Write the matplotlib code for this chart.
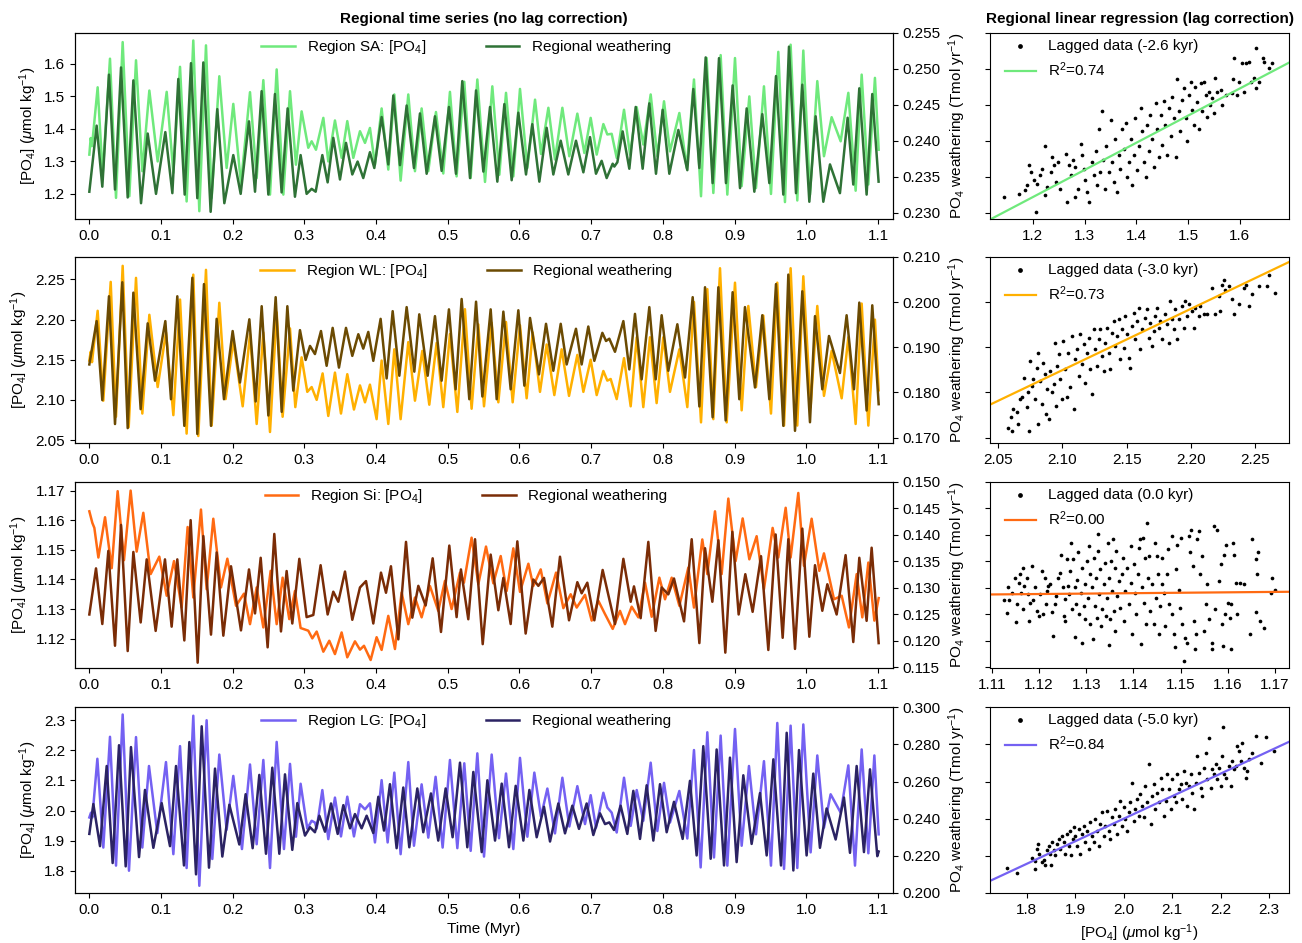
import numpy as np
import matplotlib
matplotlib.use("Agg")
import matplotlib.pyplot as plt
from matplotlib.ticker import MultipleLocator, FormatStrFormatter

plt.rcParams['font.family'] = ['Liberation Sans', 'DejaVu Sans']
plt.rcParams['mathtext.fontset'] = 'custom'
plt.rcParams['mathtext.rm'] = 'Liberation Sans'
plt.rcParams['mathtext.it'] = 'Liberation Sans:italic'
plt.rcParams['mathtext.bf'] = 'Liberation Sans:bold'

# ---------------- time series (time in kyr, value) ----------------
sa_w = [(0,0.2329),(10.2,0.2421),(18.1,0.2336),(27.4,0.2492),(35.8,0.2332),(44.2,0.2502),(53.5,0.2321),(61.4,0.2484),(72.1,0.2313),(81.4,0.2410),(93.0,0.2326),(106.0,0.2412),(115.8,0.2327),(124.1,0.2486),(133.0,0.2325),(141.8,0.2508),(150.6,0.2320),(159.0,0.2509),(169.2,0.2301),(178.5,0.2444),(188.3,0.2313),(200.8,0.2380),(211.1,0.2326),(222.7,0.2427),(231.1,0.2329),(240.3,0.2469),(249.7,0.2325),(258.9,0.2465),(268.2,0.2328),(276.6,0.2445),(286.8,0.2322),(294.7,0.2380),(303.1,0.2326),(310.1,0.2333),(315.7,0.2329),(325.0,0.2380),(332.4,0.2342),(340.3,0.2404),(349.6,0.2346),(358.0,0.2397),(366.8,0.2353),(374.2,0.2371),(382.1,0.2348),(391.4,0.2384),(397.5,0.2362),(407.7,0.2433),(417.0,0.2367),(424.0,0.2463),(433.3,0.2366),(442.6,0.2449),(452.8,0.2362),(461.2,0.2438),(470.5,0.2354),(482.1,0.2434),(491.4,0.2358),(501.6,0.2447),(511.4,0.2354),(520.2,0.2483),(531.0,0.2348),(539.4,0.2470),(549.6,0.2357),(558.9,0.2447),(569.1,0.2343),(578.9,0.2451),(589.1,0.2345),(598.4,0.2439),(609.1,0.2353),(617.9,0.2423),(627.7,0.2343),(637.9,0.2418),(647.2,0.2353),(657.5,0.2400),(668.1,0.2353),(678.8,0.2400),(689.1,0.2356),(698.4,0.2405),(706.7,0.2354),(714.6,0.2372),(721.6,0.2348),(730.0,0.2368),(732.3,0.2364),(736.5,0.2370),(743.9,0.2413),(753.2,0.2361),(762.1,0.2447),(771.8,0.2361),(781.1,0.2452),(790.4,0.2354),(799.7,0.2443),(809.0,0.2354),(821.6,0.2415),(834.1,0.2359),(842.5,0.2472),(850.9,0.2362),(859.7,0.2516),(869.4,0.2341),(878.3,0.2515),(888.0,0.2341),(897.3,0.2477),(907.6,0.2334),(916.9,0.2445),(927.6,0.2329),(938.7,0.2437),(948.5,0.2341),(957.8,0.2490),(968.0,0.2325),(975.9,0.2531),(985.7,0.2327),(994.5,0.2478),(1004.3,0.2315),(1013.1,0.2434),(1023.8,0.2315),(1033.1,0.2367),(1047.0,0.2327),(1057.7,0.2432),(1065.6,0.2339),(1074.0,0.2473),(1084.2,0.2325),(1092.1,0.2465),(1100.9,0.2343)]
sa_p = [(0,1.320),(1.9,1.371),(3.7,1.346),(11.6,1.527),(18.6,1.258),(28.8,1.615),(37.2,1.187),(46.5,1.666),(55.8,1.192),(65.1,1.610),(73.9,1.269),(83.7,1.517),(95.3,1.299),(107.9,1.513),(117.2,1.264),(126.5,1.590),(135.7,1.176),(145.0,1.671),(153.4,1.146),(162.7,1.656),(170.6,1.187),(181.3,1.561),(191.5,1.279),(200.8,1.476),(211.5,1.230),(224.1,1.512),(233.4,1.248),(242.7,1.549),(252.0,1.197),(261.3,1.582),(270.6,1.197),(279.9,1.515),(288.2,1.289),(296.1,1.453),(305.4,1.341),(310.1,1.361),(316.1,1.335),(326.4,1.433),(333.3,1.299),(342.6,1.425),(351.9,1.310),(359.8,1.423),(368.2,1.310),(377.5,1.392),(384.5,1.356),(391.4,1.402),(398.4,1.289),(407.7,1.462),(417.0,1.274),(425.4,1.505),(434.2,1.240),(444.9,1.505),(454.2,1.269),(463.5,1.462),(472.8,1.269),(483.5,1.451),(493.7,1.262),(503.0,1.513),(512.3,1.253),(523.0,1.544),(531.9,1.248),(541.2,1.551),(551.9,1.236),(562.1,1.530),(571.9,1.258),(581.2,1.510),(591.4,1.253),(600.7,1.522),(611.0,1.279),(621.7,1.489),(630.0,1.322),(640.3,1.464),(649.5,1.305),(659.8,1.464),(669.5,1.315),(680.7,1.446),(690.5,1.325),(699.3,1.433),(707.7,1.320),(717.0,1.414),(722.5,1.382),(728.6,1.384),(735.6,1.310),(745.8,1.458),(754.2,1.320),(763.5,1.466),(772.7,1.351),(783.0,1.505),(792.3,1.315),(801.6,1.484),(809.9,1.330),(823.0,1.448),(833.2,1.279),(843.4,1.551),(853.2,1.192),(861.1,1.617),(870.4,1.202),(880.6,1.626),(889.9,1.197),(900.6,1.617),(909.9,1.223),(920.6,1.499),(929.9,1.217),(941.0,1.530),(950.8,1.199),(961.0,1.636),(970.3,1.174),(978.2,1.658),(987.5,1.179),(995.9,1.640),(1005.2,1.197),(1015.4,1.546),(1024.7,1.315),(1035.4,1.435),(1048.0,1.361),(1058.7,1.510),(1068.9,1.209),(1077.3,1.566),(1086.6,1.228),(1095.8,1.556),(1101.0,1.335)]

wl_w = [(0,0.1862),(10.2,0.1958),(18.1,0.1783),(27.4,0.2013),(35.8,0.1730),(46.0,0.2044),(53.5,0.1721),(61.4,0.2021),(71.6,0.1763),(81.4,0.1953),(91.6,0.1826),(106.0,0.1958),(113.9,0.1785),(122.7,0.2013),(132.5,0.1726),(143.7,0.2054),(150.6,0.1708),(159.9,0.2040),(169.7,0.1726),(177.6,0.1963),(187.8,0.1785),(199.9,0.1936),(210.1,0.1822),(223.2,0.1962),(232.0,0.1780),(240.4,0.1991),(249.7,0.1749),(259.9,0.2011),(268.3,0.1757),(276.2,0.1991),(284.5,0.1804),(293.8,0.1938),(301.7,0.1872),(307.8,0.1903),(314.7,0.1885),(323.1,0.1936),(331.0,0.1859),(339.4,0.1943),(348.2,0.1855),(358.0,0.1943),(366.8,0.1881),(375.2,0.1929),(382.1,0.1897),(389.1,0.1934),(396.1,0.1870),(406.3,0.1963),(414.7,0.1831),(423.1,0.1980),(432.4,0.1837),(442.6,0.1989),(453.3,0.1846),(460.2,0.1973),(471.9,0.1837),(482.1,0.1969),(491.4,0.1826),(501.6,0.1984),(510.9,0.1807),(519.3,0.2007),(530.0,0.1785),(539.4,0.2001),(548.2,0.1791),(559.8,0.1984),(568.2,0.1785),(577.5,0.1979),(587.7,0.1807),(598.4,0.1982),(606.8,0.1815),(614.7,0.1965),(627.2,0.1840),(637.0,0.1952),(647.2,0.1848),(657.5,0.1952),(665.8,0.1862),(678.8,0.1941),(686.7,0.1862),(696.0,0.1946),(704.4,0.1870),(715.6,0.1932),(720.7,0.1914),(725.3,0.1919),(733.2,0.1890),(744.9,0.1958),(753.2,0.1851),(761.1,0.1974),(770.4,0.1829),(781.1,0.1989),(790.0,0.1829),(798.3,0.1971),(807.6,0.1848),(820.2,0.1951),(830.9,0.1833),(841.6,0.2011),(850.9,0.1769),(858.8,0.2033),(869.4,0.1745),(877.4,0.2033),(887.6,0.1738),(897.3,0.2022),(906.6,0.1785),(914.5,0.1989),(928.5,0.1811),(938.7,0.1971),(948.5,0.1785),(957.8,0.2040),(968.0,0.1726),(975.0,0.2061),(984.3,0.1715),(994.5,0.2024),(1005.2,0.1734),(1012.2,0.1969),(1022.4,0.1807),(1031.7,0.1925),(1047.0,0.1843),(1056.3,0.1971),(1066.6,0.1807),(1074.0,0.1999),(1084.2,0.1760),(1092.1,0.1993),(1101.0,0.1774)]
wl_p = [(0,2.149),(1.9,2.160),(3.7,2.147),(11.6,2.211),(19.5,2.099),(29.8,2.247),(37.2,2.079),(46.5,2.267),(54.9,2.066),(65.1,2.252),(73.9,2.083),(83.7,2.206),(95.3,2.116),(106.9,2.184),(117.2,2.081),(126.5,2.225),(135.7,2.058),(145.0,2.256),(152.0,2.055),(162.7,2.262),(170.6,2.068),(181.3,2.221),(190.1,2.101),(200.8,2.174),(213.9,2.092),(224.1,2.182),(233.4,2.070),(242.7,2.184),(252.0,2.060),(261.3,2.209),(269.6,2.079),(279.9,2.189),(287.3,2.091),(296.1,2.153),(304.0,2.110),(310.1,2.116),(317.1,2.100),(325.4,2.133),(333.3,2.080),(342.6,2.134),(351.0,2.083),(359.8,2.132),(369.1,2.088),(377.5,2.118),(384.5,2.097),(391.4,2.119),(400.7,2.076),(407.7,2.149),(417.0,2.070),(425.4,2.163),(434.2,2.076),(444.9,2.172),(454.2,2.099),(464.4,2.161),(474.2,2.094),(484.4,2.171),(493.7,2.091),(503.0,2.182),(513.3,2.085),(523.9,2.213),(533.2,2.089),(542.6,2.194),(550.5,2.092),(561.2,2.196),(570.5,2.097),(581.2,2.197),(590.5,2.097),(600.7,2.193),(610.0,2.102),(618.4,2.184),(628.6,2.110),(637.9,2.169),(648.6,2.106),(658.8,2.163),(669.1,2.105),(680.7,2.156),(689.1,2.110),(699.3,2.150),(707.7,2.106),(717.0,2.136),(722.5,2.124),(727.2,2.126),(735.6,2.101),(745.8,2.152),(755.1,2.092),(763.5,2.178),(772.7,2.091),(782.0,2.178),(791.3,2.096),(800.6,2.178),(809.9,2.110),(823.0,2.163),(834.1,2.091),(843.4,2.222),(853.2,2.072),(862.0,2.238),(870.4,2.076),(879.7,2.264),(889.0,2.072),(900.6,2.246),(909.9,2.087),(919.2,2.217),(929.9,2.116),(940.1,2.205),(950.8,2.083),(959.6,2.246),(969.0,2.068),(978.2,2.264),(987.5,2.068),(995.9,2.254),(1006.1,2.091),(1015.4,2.217),(1024.7,2.105),(1035.4,2.161),(1049.4,2.102),(1058.7,2.178),(1068.9,2.070),(1077.3,2.220),(1086.6,2.068),(1095.8,2.200),(1101.0,2.112)]

si_w = [(0,0.1250),(9.3,0.1337),(18.1,0.1232),(26.5,0.1370),(35.8,0.1191),(44.2,0.1419),(53.5,0.1181),(61.4,0.1368),(71.6,0.1235),(80.0,0.1354),(92.5,0.1219),(105.5,0.1354),(114.8,0.1227),(122.7,0.1354),(132.5,0.1201),(141.3,0.1428),(151.1,0.1159),(159.0,0.1398),(169.7,0.1212),(177.6,0.1367),(186.9,0.1210),(197.6,0.1341),(211.5,0.1220),(222.7,0.1335),(231.1,0.1252),(239.0,0.1357),(248.7,0.1188),(258.0,0.1402),(267.3,0.1218),(275.2,0.1332),(283.1,0.1233),(292.9,0.1355),(303.1,0.1245),(312.4,0.1249),(322.6,0.1343),(332.4,0.1250),(340.3,0.1293),(347.3,0.1274),(356.6,0.1331),(366.8,0.1240),(377.5,0.1301),(385.9,0.1313),(396.1,0.1233),(406.8,0.1329),(413.8,0.1291),(420.7,0.1341),(431.0,0.1203),(441.7,0.1387),(450.5,0.1244),(458.9,0.1304),(469.1,0.1267),(478.9,0.1356),(490.5,0.1217),(502.1,0.1380),(512.3,0.1245),(518.3,0.1335),(528.6,0.1241),(538.0,0.1392),(548.7,0.1194),(559.8,0.1363),(570.5,0.1258),(577.5,0.1319),(587.7,0.1232),(597.0,0.1388),(608.6,0.1214),(619.3,0.1316),(626.3,0.1304),(634.2,0.1319),(645.8,0.1227),(656.5,0.1359),(669.1,0.1239),(680.7,0.1311),(686.7,0.1290),(694.6,0.1310),(704.4,0.1239),(716.0,0.1334),(733.2,0.1232),(744.9,0.1355),(755.1,0.1274),(759.7,0.1303),(769.0,0.1243),(779.7,0.1387),(789.9,0.1219),(798.3,0.1301),(807.6,0.1288),(815.5,0.1318),(829.5,0.1237),(840.2,0.1392),(850.9,0.1196),(858.8,0.1375),(869.0,0.1274),(877.4,0.1390),(887.1,0.1178),(896.9,0.1406),(905.7,0.1250),(915.0,0.1326),(925.2,0.1255),(936.9,0.1360),(947.1,0.1183),(957.3,0.1401),(967.1,0.1206),(975.0,0.1392),(984.3,0.1185),(994.5,0.1412),(1004.3,0.1208),(1012.2,0.1343),(1022.4,0.1257),(1029.4,0.1307),(1042.4,0.1250),(1054.9,0.1362),(1065.6,0.1198),(1074.0,0.1357),(1084.2,0.1238),(1091.2,0.1376),(1101.0,0.1196)]
si_p = [(0,1.1630),(4.2,1.1591),(7.0,1.1574),(12.6,1.1474),(21.9,1.1610),(31.2,1.1438),(39.5,1.1698),(48.3,1.1465),(57.6,1.1700),(66.0,1.1494),(75.3,1.1625),(85.5,1.1418),(97.6,1.1477),(107.9,1.1345),(118.1,1.1462),(128.8,1.1305),(137.1,1.1577),(145.0,1.1339),(155.7,1.1636),(163.6,1.1367),(172.9,1.1605),(183.6,1.1373),(192.5,1.1470),(204.6,1.1311),(215.7,1.1352),(224.1,1.1249),(233.4,1.1373),(242.7,1.1238),(252.9,1.1429),(261.3,1.1249),(269.6,1.1406),(278.9,1.1266),(286.8,1.1361),(294.7,1.1236),(305.4,1.1227),(311.0,1.1201),(317.1,1.1224),(326.4,1.1156),(334.7,1.1193),(342.6,1.1148),(351.9,1.1221),(359.8,1.1137),(370.5,1.1191),(377.5,1.1163),(383.1,1.1176),(392.4,1.1128),(400.7,1.1205),(407.7,1.1162),(417.0,1.1277),(426.3,1.1165),(435.6,1.1356),(444.9,1.1249),(454.2,1.1339),(463.5,1.1272),(475.1,1.1378),(486.7,1.1294),(496.0,1.1395),(505.3,1.1300),(517.0,1.1423),(522.5,1.1389),(533.2,1.1541),(542.6,1.1384),(553.3,1.1511),(563.5,1.1387),(573.8,1.1479),(582.1,1.1361),(591.4,1.1505),(600.7,1.1358),(612.4,1.1453),(619.3,1.1378),(629.6,1.1434),(638.9,1.1319),(651.0,1.1423),(661.2,1.1303),(671.4,1.1350),(679.8,1.1305),(691.4,1.1348),(700.7,1.1261),(710.0,1.1328),(719.3,1.1283),(730.0,1.1233),(740.2,1.1294),(747.2,1.1249),(756.5,1.1308),(765.8,1.1272),(775.1,1.1389),(784.4,1.1274),(795.1,1.1406),(803.0,1.1333),(812.3,1.1406),(823.0,1.1311),(835.5,1.1440),(843.4,1.1305),(855.0,1.1535),(862.0,1.1418),(872.7,1.1630),(882.0,1.1418),(891.3,1.1673),(901.5,1.1462),(911.3,1.1606),(920.6,1.1468),(930.8,1.1546),(941.0,1.1367),(953.1,1.1574),(961.0,1.1474),(971.3,1.1642),(978.2,1.1474),(988.9,1.1692),(996.8,1.1446),(1007.5,1.1605),(1018.2,1.1429),(1024.7,1.1488),(1038.7,1.1333),(1049.4,1.1345),(1059.6,1.1238),(1070.3,1.1418),(1078.2,1.1272),(1086.6,1.1457),(1095.0,1.1261),(1101.0,1.1337)]

lg_w = [(0,0.2318),(5.6,0.2479),(14.9,0.2252),(24.2,0.2684),(32.5,0.2161),(41.4,0.2796),(50.7,0.2143),(58.1,0.2786),(69.3,0.2193),(77.6,0.2555),(89.3,0.2243),(100.9,0.2484),(112.5,0.2252),(120.9,0.2684),(132.0,0.2148),(139.5,0.2813),(148.8,0.2100),(156.7,0.2898),(166.9,0.2136),(175.3,0.2670),(185.5,0.2196),(195.3,0.2475),(209.2,0.2261),(218.0,0.2532),(227.8,0.2241),(237.1,0.2636),(246.4,0.2211),(255.2,0.2675),(265.0,0.2211),(272.9,0.2639),(283.1,0.2232),(290.1,0.2484),(300.8,0.2309),(307.8,0.2354),(314.7,0.2327),(320.8,0.2416),(328.7,0.2330),(337.1,0.2482),(346.4,0.2318),(354.3,0.2473),(363.6,0.2348),(370.5,0.2425),(379.8,0.2348),(386.8,0.2416),(396.1,0.2323),(403.1,0.2518),(411.0,0.2336),(419.3,0.2586),(428.6,0.2241),(437.9,0.2568),(446.3,0.2246),(457.5,0.2563),(465.8,0.2327),(476.5,0.2536),(486.7,0.2282),(497.0,0.2563),(506.7,0.2300),(517.0,0.2702),(527.2,0.2246),(535.6,0.2652),(547.3,0.2220),(555.2,0.2607),(565.9,0.2282),(575.2,0.2589),(585.4,0.2246),(594.7,0.2577),(605.4,0.2282),(613.8,0.2555),(624.0,0.2300),(634.2,0.2464),(642.6,0.2277),(654.2,0.2482),(663.5,0.2321),(673.7,0.2470),(683.0,0.2345),(693.7,0.2482),(703.0,0.2312),(712.3,0.2429),(719.3,0.2371),(725.3,0.2380),(731.8,0.2339),(741.1,0.2470),(750.4,0.2318),(758.8,0.2550),(768.1,0.2291),(777.4,0.2580),(786.7,0.2282),(796.0,0.2586),(805.3,0.2327),(815.5,0.2491),(827.6,0.2291),(837.8,0.2604),(847.1,0.2202),(856.4,0.2791),(866.7,0.2184),(875.0,0.2773),(885.3,0.2148),(893.6,0.2729),(902.9,0.2166),(912.2,0.2634),(923.8,0.2264),(935.5,0.2538),(944.8,0.2202),(954.1,0.2720),(964.8,0.2148),(972.7,0.2863),(982.0,0.2121),(989.9,0.2770),(1000.5,0.2202),(1009.8,0.2643),(1019.1,0.2243),(1028.4,0.2455),(1041.0,0.2288),(1052.6,0.2514),(1061.0,0.2216),(1070.3,0.2684),(1080.5,0.2220),(1088.9,0.2666),(1099.1,0.2198),(1101.0,0.2223)]
lg_p = [(0,1.977),(2.3,1.993),(4.2,1.977),(11.2,2.172),(19.5,1.877),(28.8,2.245),(37.2,1.817),(46.5,2.319),(55.3,1.800),(65.1,2.244),(73.9,1.877),(83.2,2.148),(94.8,1.925),(106.9,2.161),(117.2,1.855),(126.5,2.214),(135.7,1.809),(145.0,2.315),(153.4,1.750),(163.6,2.300),(171.5,1.839),(181.3,2.186),(191.5,1.936),(200.8,2.115),(212.9,1.872),(224.1,2.153),(233.4,1.888),(242.7,2.168),(252.0,1.809),(261.3,2.228),(271.5,1.872),(279.9,2.155),(288.2,1.913),(294.7,2.089),(304.0,1.940),(310.1,1.966),(314.7,1.960),(317.1,1.940),(325.0,2.068),(333.3,1.905),(342.6,2.043),(351.0,1.914),(359.8,2.046),(369.1,1.914),(377.5,2.021),(384.5,2.004),(391.4,2.024),(398.4,1.894),(407.7,2.101),(416.1,1.894),(425.4,2.126),(434.2,1.855),(444.9,2.161),(452.8,1.883),(463.5,2.087),(472.8,1.910),(483.0,2.112),(492.8,1.877),(503.0,2.168),(513.3,1.875),(523.0,2.157),(531.9,1.866),(541.2,2.190),(550.5,1.847),(561.2,2.186),(571.4,1.908),(581.2,2.123),(591.4,1.872),(600.7,2.175),(611.0,1.913),(620.7,2.126),(630.0,1.980),(638.9,2.073),(649.5,1.924),(659.8,2.109),(669.5,1.947),(680.7,2.081),(691.4,1.955),(699.3,2.051),(706.7,1.943),(717.0,2.059),(722.5,2.010),(728.6,1.993),(735.6,1.927),(745.8,2.109),(755.1,1.949),(763.5,2.068),(772.7,1.966),(783.0,2.159),(792.3,1.932),(801.6,2.092),(809.9,1.960),(823.0,2.065),(834.1,1.907),(843.4,2.201),(852.7,1.811),(862.0,2.260),(871.3,1.844),(880.6,2.249),(889.9,1.817),(900.6,2.271),(909.9,1.883),(920.1,2.148),(929.9,1.921),(941.0,2.164),(950.8,1.817),(959.6,2.291),(969.0,1.806),(978.2,2.282),(987.5,1.809),(995.9,2.286),(1006.1,1.861),(1015.4,2.183),(1024.7,1.943),(1034.0,2.054),(1048.0,1.993),(1058.7,2.150),(1068.0,1.817),(1077.3,2.203),(1086.6,1.858),(1095.0,2.183),(1101.0,1.921)]

# ---------------- lagged scatter data ([PO4], weathering) ----------------
sa_sc = [(1.144,0.2322),(1.174,0.2326),(1.185,0.2331),(1.188,0.2338),(1.192,0.2366),(1.196,0.2357),(1.203,0.2345),(1.205,0.2301),(1.208,0.2340),(1.213,0.2352),(1.217,0.2361),(1.224,0.2392),(1.224,0.2324),(1.227,0.2336),(1.234,0.2357),(1.237,0.2378),(1.240,0.2366),(1.245,0.2343),(1.248,0.2371),(1.253,0.2333),(1.263,0.2382),(1.266,0.2315),(1.269,0.2366),(1.274,0.2352),(1.277,0.2373),(1.281,0.2322),(1.282,0.2364),(1.287,0.2333),(1.292,0.2396),(1.295,0.2380),(1.298,0.2361),(1.301,0.2345),(1.305,0.2329),(1.309,0.2315),(1.314,0.2371),(1.318,0.2352),(1.321,0.2385),(1.324,0.2338),(1.327,0.2417),(1.330,0.2357),(1.334,0.2441),(1.335,0.2373),(1.339,0.2333),(1.341,0.2392),(1.347,0.2357),(1.350,0.2429),(1.352,0.2371),(1.356,0.2343),(1.359,0.2403),(1.363,0.2329),(1.366,0.2380),(1.369,0.2361),(1.372,0.2417),(1.376,0.2389),(1.379,0.2424),(1.382,0.2350),(1.385,0.2371),(1.389,0.2403),(1.392,0.2338),(1.395,0.2380),(1.398,0.2432),(1.401,0.2359),(1.405,0.2392),(1.408,0.2445),(1.411,0.2413),(1.414,0.2371),(1.418,0.2350),(1.421,0.2422),(1.424,0.2385),(1.427,0.2436),(1.430,0.2403),(1.434,0.2364),(1.437,0.2452),(1.440,0.2417),(1.443,0.2378),(1.447,0.2436),(1.450,0.2394),(1.453,0.2455),(1.456,0.2422),(1.460,0.2380),(1.463,0.2445),(1.466,0.2406),(1.469,0.2461),(1.472,0.2431),(1.476,0.2378),(1.479,0.2486),(1.482,0.2441),(1.485,0.2413),(1.489,0.2457),(1.492,0.2473),(1.495,0.2431),(1.498,0.2399),(1.501,0.2464),(1.505,0.2482),(1.508,0.2443),(1.511,0.2422),(1.514,0.2475),(1.518,0.2454),(1.521,0.2417),(1.524,0.2480),(1.527,0.2441),(1.531,0.2482),(1.534,0.2464),(1.537,0.2433),(1.540,0.2468),(1.543,0.2450),(1.547,0.2459),(1.550,0.2438),(1.552,0.2487),(1.556,0.2468),(1.563,0.2471),(1.566,0.2450),(1.573,0.2464),(1.585,0.2466),(1.587,0.2486),(1.589,0.2515),(1.595,0.2464),(1.598,0.2482),(1.605,0.2508),(1.608,0.2468),(1.611,0.2508),(1.618,0.2510),(1.621,0.2482),(1.627,0.2487),(1.631,0.2529),(1.632,0.2473),(1.637,0.2482),(1.644,0.2515),(1.647,0.2510),(1.656,0.2501),(1.663,0.2508)]
wl_sc = [(2.0578,0.1721),(2.0614,0.1715),(2.0604,0.1745),(2.0622,0.1763),(2.0648,0.1756),(2.0661,0.1730),(2.0674,0.1785),(2.0687,0.1789),(2.0707,0.1833),(2.0725,0.1767),(2.0738,0.1800),(2.0744,0.1715),(2.0751,0.1870),(2.0764,0.1815),(2.0777,0.1829),(2.0790,0.1785),(2.0803,0.1855),(2.0811,0.1730),(2.0816,0.1888),(2.0829,0.1826),(2.0842,0.1774),(2.0855,0.1866),(2.0863,0.1840),(2.0873,0.1752),(2.0881,0.1807),(2.0894,0.1741),(2.0907,0.1848),(2.0920,0.1800),(2.0933,0.1818),(2.0946,0.1910),(2.0951,0.1771),(2.0959,0.1859),(2.0972,0.1885),(2.0985,0.1829),(2.0997,0.1785),(2.1010,0.1914),(2.1023,0.1851),(2.1036,0.1789),(2.1049,0.1888),(2.1062,0.1811),(2.1075,0.1925),(2.1088,0.1763),(2.1101,0.1874),(2.1114,0.1896),(2.1127,0.1837),(2.1140,0.1929),(2.1153,0.1862),(2.1166,0.1907),(2.1179,0.1822),(2.1192,0.1888),(2.1205,0.1921),(2.1218,0.1851),(2.1231,0.1796),(2.1244,0.1940),(2.1257,0.1896),(2.1270,0.1859),(2.1282,0.1918),(2.1295,0.1940),(2.1308,0.1881),(2.1321,0.1848),(2.1334,0.1910),(2.1347,0.1943),(2.1360,0.1888),(2.1373,0.1851),(2.1386,0.1932),(2.1399,0.1958),(2.1412,0.1903),(2.1425,0.1925),(2.1438,0.1962),(2.1451,0.1874),(2.1464,0.1940),(2.1477,0.1899),(2.1490,0.1969),(2.1503,0.1929),(2.1516,0.1877),(2.1529,0.1855),(2.1542,0.1947),(2.1555,0.1976),(2.1567,0.1918),(2.1580,0.1958),(2.1593,0.1988),(2.1606,0.1896),(2.1619,0.1940),(2.1645,0.1965),(2.1658,0.1984),(2.1671,0.1921),(2.1684,0.1954),(2.1697,0.1903),(2.1710,0.1936),(2.1723,0.1969),(2.1736,0.1988),(2.1749,0.1943),(2.1762,0.1958),(2.1775,0.1918),(2.1801,0.1973),(2.1814,0.1951),(2.1827,0.1910),(2.1840,0.2002),(2.1852,0.1962),(2.1865,0.1940),(2.1878,0.1984),(2.1891,0.1918),(2.1904,0.1962),(2.1930,0.1991),(2.1943,0.1943),(2.1956,0.2002),(2.1969,0.1969),(2.1982,0.1995),(2.2008,0.1980),(2.2021,0.1943),(2.2034,0.1988),(2.2060,0.1969),(2.2073,0.1991),(2.2099,0.1973),(2.2125,0.1973),(2.2163,0.2032),(2.2189,0.1973),(2.2215,0.2013),(2.2228,0.1980),(2.2241,0.2039),(2.2254,0.2050),(2.2267,0.2028),(2.2293,0.2035),(2.2319,0.2006),(2.2332,0.1973),(2.2371,0.1995),(2.2410,0.2032),(2.2423,0.2039),(2.2448,0.1991),(2.2474,0.2017),(2.2526,0.2035),(2.2591,0.2035),(2.2604,0.2061),(2.2651,0.2021)]
si_sc = [(1.1126,0.1277),(1.1132,0.1252),(1.1134,0.1302),(1.1137,0.1277),(1.1142,0.1291),(1.1148,0.1318),(1.1151,0.1235),(1.1153,0.1269),(1.1157,0.1310),(1.1160,0.1326),(1.1162,0.1291),(1.1165,0.1338),(1.1167,0.1260),(1.1169,0.1304),(1.1174,0.1319),(1.1176,0.1288),(1.1179,0.1238),(1.1181,0.1271),(1.1185,0.1341),(1.1188,0.1277),(1.1192,0.1301),(1.1196,0.1257),(1.1199,0.1247),(1.1203,0.1288),(1.1206,0.1332),(1.1208,0.1250),(1.1212,0.1319),(1.1215,0.1269),(1.1217,0.1294),(1.1220,0.1304),(1.1224,0.1308),(1.1227,0.1254),(1.1230,0.1210),(1.1234,0.1269),(1.1236,0.1285),(1.1240,0.1319),(1.1245,0.1329),(1.1247,0.1363),(1.1250,0.1301),(1.1252,0.1247),(1.1254,0.1279),(1.1256,0.1238),(1.1259,0.1354),(1.1261,0.1304),(1.1263,0.1288),(1.1266,0.1332),(1.1268,0.1385),(1.1270,0.1260),(1.1273,0.1354),(1.1276,0.1301),(1.1277,0.1208),(1.1278,0.1269),(1.1280,0.1316),(1.1283,0.1367),(1.1284,0.1250),(1.1288,0.1291),(1.1291,0.1338),(1.1292,0.1197),(1.1295,0.1266),(1.1297,0.1307),(1.1298,0.1241),(1.1302,0.1351),(1.1304,0.1282),(1.1305,0.1379),(1.1307,0.1232),(1.1309,0.1326),(1.1312,0.1301),(1.1314,0.1203),(1.1316,0.1357),(1.1318,0.1266),(1.1321,0.1319),(1.1323,0.1244),(1.1325,0.1370),(1.1326,0.1401),(1.1328,0.1288),(1.1330,0.1335),(1.1332,0.1228),(1.1334,0.1260),(1.1337,0.1307),(1.1339,0.1348),(1.1341,0.1247),(1.1344,0.1282),(1.1346,0.1385),(1.1348,0.1319),(1.1349,0.1192),(1.1351,0.1241),(1.1353,0.1351),(1.1355,0.1294),(1.1356,0.1392),(1.1358,0.1257),(1.1360,0.1338),(1.1362,0.1219),(1.1363,0.1370),(1.1365,0.1285),(1.1369,0.1313),(1.1372,0.1263),(1.1376,0.1326),(1.1377,0.1357),(1.1380,0.1238),(1.1383,0.1294),(1.1387,0.1338),(1.1390,0.1269),(1.1394,0.1310),(1.1396,0.1379),(1.1397,0.1213),(1.1401,0.1345),(1.1403,0.1291),(1.1406,0.1250),(1.1410,0.1326),(1.1411,0.1376),(1.1415,0.1392),(1.1417,0.1194),(1.1418,0.1301),(1.1420,0.1395),(1.1422,0.1272),(1.1424,0.1357),(1.1427,0.1232),(1.1429,0.1423),(1.1431,0.1319),(1.1433,0.1360),(1.1436,0.1257),(1.1440,0.1307),(1.1443,0.1232),(1.1445,0.1385),(1.1447,0.1282),(1.1450,0.1360),(1.1452,0.1326),(1.1455,0.1213),(1.1457,0.1266),(1.1460,0.1307),(1.1461,0.1357),(1.1464,0.1291),(1.1468,0.1228),(1.1472,0.1326),(1.1474,0.1373),(1.1476,0.1269),(1.1481,0.1398),(1.1482,0.1250),(1.1486,0.1213),(1.1488,0.1188),(1.1491,0.1335),(1.1493,0.1382),(1.1496,0.1297),(1.1498,0.1263),(1.1500,0.1395),(1.1503,0.1232),(1.1507,0.1163),(1.1510,0.1206),(1.1514,0.1197),(1.1518,0.1398),(1.1521,0.1367),(1.1523,0.1410),(1.1526,0.1341),(1.1528,0.1238),(1.1530,0.1185),(1.1533,0.1213),(1.1535,0.1392),(1.1539,0.1407),(1.1542,0.1326),(1.1546,0.1360),(1.1549,0.1219),(1.1553,0.1269),(1.1556,0.1307),(1.1561,0.1241),(1.1566,0.1197),(1.1567,0.1185),(1.1571,0.1417),(1.1574,0.1260),(1.1578,0.1410),(1.1581,0.1313),(1.1585,0.1345),(1.1588,0.1232),(1.1590,0.1191),(1.1592,0.1363),(1.1595,0.1250),(1.1597,0.1382),(1.1601,0.1272),(1.1604,0.1244),(1.1606,0.1185),(1.1608,0.1269),(1.1611,0.1385),(1.1613,0.1363),(1.1617,0.1310),(1.1620,0.1250),(1.1627,0.1310),(1.1634,0.1307),(1.1648,0.1213),(1.1652,0.1392),(1.1659,0.1254),(1.1661,0.1354),(1.1663,0.1326),(1.1665,0.1367),(1.1668,0.1238),(1.1677,0.1225),(1.1691,0.1291),(1.1694,0.1319),(1.1700,0.1297)]
lg_sc = [(1.7586,0.2136),(1.7793,0.2109),(1.8103,0.2188),(1.8159,0.2170),(1.8172,0.2130),(1.8207,0.2238),(1.8228,0.2264),(1.8255,0.2211),(1.8310,0.2166),(1.8345,0.2180),(1.8379,0.2148),(1.8414,0.2229),(1.8448,0.2255),(1.8483,0.2211),(1.8503,0.2148),(1.8517,0.2273),(1.8552,0.2229),(1.8586,0.2202),(1.8621,0.2264),(1.8655,0.2291),(1.8690,0.2238),(1.8724,0.2309),(1.8759,0.2273),(1.8793,0.2211),(1.8828,0.2318),(1.8862,0.2255),(1.8897,0.2336),(1.8917,0.2202),(1.8945,0.2291),(1.8966,0.2354),(1.9000,0.2309),(1.9034,0.2255),(1.9069,0.2345),(1.9103,0.2211),(1.9138,0.2318),(1.9172,0.2363),(1.9207,0.2273),(1.9241,0.2336),(1.9276,0.2238),(1.9310,0.2380),(1.9345,0.2309),(1.9379,0.2273),(1.9414,0.2398),(1.9448,0.2336),(1.9483,0.2255),(1.9517,0.2371),(1.9552,0.2434),(1.9586,0.2309),(1.9621,0.2363),(1.9655,0.2443),(1.9690,0.2336),(1.9724,0.2291),(1.9759,0.2407),(1.9793,0.2371),(1.9828,0.2452),(1.9862,0.2318),(1.9897,0.2416),(1.9931,0.2496),(1.9966,0.2363),(2.0000,0.2461),(2.0034,0.2398),(2.0069,0.2336),(2.0103,0.2434),(2.0138,0.2488),(2.0172,0.2595),(2.0207,0.2389),(2.0241,0.2452),(2.0276,0.2505),(2.0310,0.2416),(2.0345,0.2532),(2.0379,0.2470),(2.0414,0.2407),(2.0448,0.2577),(2.0483,0.2488),(2.0517,0.2693),(2.0552,0.2371),(2.0586,0.2523),(2.0621,0.2586),(2.0655,0.2452),(2.0690,0.2541),(2.0724,0.2488),(2.0759,0.2621),(2.0793,0.2559),(2.0828,0.2416),(2.0862,0.2496),(2.0897,0.2639),(2.0931,0.2559),(2.0966,0.2452),(2.1000,0.2613),(2.1034,0.2523),(2.1069,0.2488),(2.1103,0.2639),(2.1138,0.2559),(2.1172,0.2586),(2.1207,0.2505),(2.1241,0.2657),(2.1276,0.2595),(2.1310,0.2470),(2.1345,0.2577),(2.1379,0.2639),(2.1414,0.2541),(2.1448,0.2452),(2.1483,0.2595),(2.1517,0.2738),(2.1552,0.2648),(2.1586,0.2568),(2.1621,0.2523),(2.1655,0.2675),(2.1690,0.2755),(2.1724,0.2613),(2.1759,0.2836),(2.1793,0.2568),(2.1828,0.2666),(2.1862,0.2639),(2.1897,0.2693),(2.1931,0.2613),(2.1966,0.2675),(2.2000,0.2577),(2.2034,0.2738),(2.2048,0.2895),(2.2069,0.2639),(2.2103,0.2621),(2.2172,0.2684),(2.2207,0.2577),(2.2241,0.2711),(2.2276,0.2666),(2.2310,0.2684),(2.2345,0.2791),(2.2379,0.2764),(2.2414,0.2711),(2.2448,0.2809),(2.2483,0.2675),(2.2517,0.2621),(2.2552,0.2657),(2.2586,0.2720),(2.2655,0.2755),(2.2724,0.2848),(2.2828,0.2702),(2.2931,0.2841),(2.3103,0.2764)]

# regression lines (slope, intercept)
fit_sa = (0.0378, 0.1868)
fit_wl = (0.1362, -0.1011)
fit_si = (0.008, 0.1199)
fit_lg = (0.1215, -0.0030)

regions = ["SA", "WL", "Si", "LG"]
lags = ["-2.6", "-3.0", "0.0", "-5.0"]
r2 = ["0.74", "0.73", "0.00", "0.84"]
light_colors = ["#6fe97c", "#ffb000", "#ff6a12", "#7461f2"]
dark_colors = ["#2f7236", "#6b4a02", "#7a2c06", "#2b2363"]

series_p = [sa_p, wl_p, si_p, lg_p]
series_w = [sa_w, wl_w, si_w, lg_w]
scatters = [sa_sc, wl_sc, si_sc, lg_sc]
fits = [fit_sa, fit_wl, fit_si, fit_lg]

# axis settings
left_ylim = [(1.122, 1.694), (2.0463, 2.278), (1.1101, 1.1729), (1.726, 2.344)]
left_step = [0.1, 0.05, 0.01, 0.1]
left_fmt = ["%.1f", "%.2f", "%.2f", "%.1f"]
right_ylim = [(0.2291, 0.2550), (0.1688, 0.2100), (0.1149, 0.1500), (0.19995, 0.3002)]
right_step = [0.005, 0.01, 0.005, 0.02]
sc_xlim = [(1.117, 1.695), (2.044, 2.276), (1.1096, 1.1730), (1.724, 2.341)]
sc_step = [0.1, 0.05, 0.01, 0.1]
sc_fmt = ["%.1f", "%.2f", "%.2f", "%.1f"]

W, H = 1302, 943
fig = plt.figure(figsize=(W / 100, H / 100), dpi=100)

tops = [33, 257, 482, 707]
ph = 186
FS = 11

for i in range(4):
    bottom = 1 - (tops[i] + ph) / H
    ax = fig.add_axes([75 / W, bottom, (893 - 75) / W, ph / H])
    axr = ax.twinx()
    axs = fig.add_axes([990 / W, bottom, (1289 - 990) / W, ph / H])

    tp, vp = np.array(series_p[i]).T
    tw, vw = np.array(series_w[i]).T
    l1, = ax.plot(tp / 1000.0, vp, color=light_colors[i], lw=1.8, solid_joinstyle="round")
    l2, = axr.plot(tw / 1000.0, vw, color=dark_colors[i], lw=1.8, solid_joinstyle="round")

    ax.set_xlim(-0.02, 1.121)
    ax.set_ylim(*left_ylim[i])
    axr.set_ylim(*right_ylim[i])
    ax.xaxis.set_major_locator(MultipleLocator(0.1))
    ax.xaxis.set_major_formatter(FormatStrFormatter("%.1f"))
    ax.yaxis.set_major_locator(MultipleLocator(left_step[i]))
    ax.yaxis.set_major_formatter(FormatStrFormatter(left_fmt[i]))
    axr.yaxis.set_major_locator(MultipleLocator(right_step[i]))
    axr.yaxis.set_major_formatter(FormatStrFormatter("%.3f"))
    ax.tick_params(labelsize=FS)
    axr.tick_params(labelsize=FS)
    ax.set_ylabel(r"[PO$_4$] ($\mu$mol kg$^{-1}$)", fontsize=FS)
    axr.set_ylabel(r"PO$_4$ weathering (Tmol yr$^{-1}$)", fontsize=FS)

    axr.legend([l1, l2], ["Region %s: [PO$_4$]" % regions[i], "Regional weathering"],
               loc="upper center", bbox_to_anchor=(0.478, 1.0), ncol=2, frameon=False,
               fontsize=FS, handlelength=2.2, columnspacing=3.9, borderaxespad=0.15,
               borderpad=0.2)

    # scatter
    sx, sy = np.array(scatters[i]).T
    pts = axs.scatter(sx, sy, s=7, color="black", linewidths=0)
    axs.set_xlim(*sc_xlim[i])
    axs.set_ylim(*right_ylim[i])
    xx = np.array(sc_xlim[i])
    fl, = axs.plot(xx, fits[i][0] * xx + fits[i][1], color=light_colors[i], lw=1.6)
    axs.xaxis.set_major_locator(MultipleLocator(sc_step[i]))
    axs.xaxis.set_major_formatter(FormatStrFormatter(sc_fmt[i]))
    axs.yaxis.set_major_locator(MultipleLocator(right_step[i]))
    axs.set_yticklabels([])
    axs.tick_params(labelsize=FS)
    axs.legend([pts, fl], ["Lagged data (%s kyr)" % lags[i], "R$^2$=%s" % r2[i]],
               loc="upper left", bbox_to_anchor=(0.03, 1.0), frameon=False, fontsize=FS,
               scatterpoints=1, markerscale=1.3, borderaxespad=0.2, borderpad=0.2,
               handlelength=2.0)

    if i == 0:
        ax.set_title("Regional time series (no lag correction)", fontsize=11,
                     fontweight="bold", pad=7)
        axs.set_title("Regional linear regression (lag correction)", fontsize=11,
                      fontweight="bold", pad=7)
    if i == 3:
        ax.set_xlabel("Time (Myr)", fontsize=FS)
        axs.set_xlabel(r"[PO$_4$] ($\mu$mol kg$^{-1}$)", fontsize=FS)

fig.savefig("out.png", dpi=100)
